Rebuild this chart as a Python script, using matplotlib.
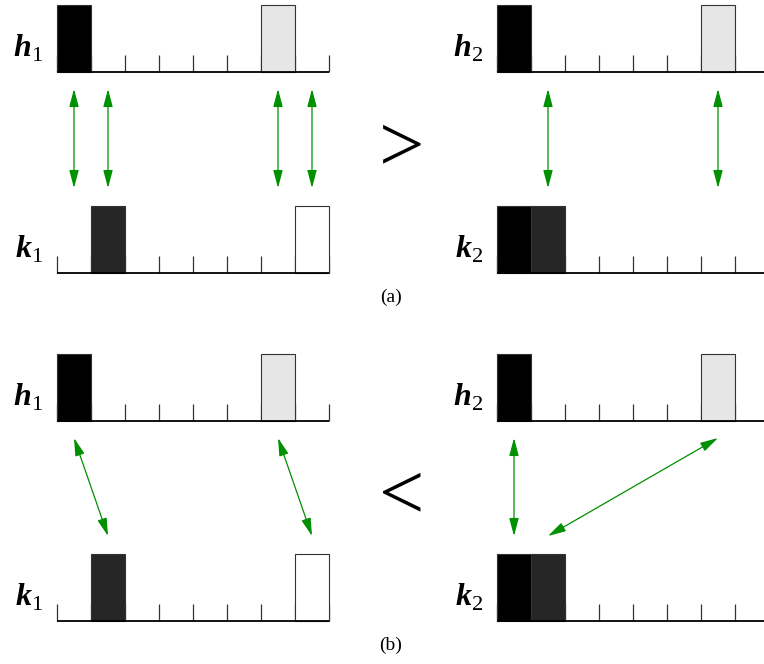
import matplotlib.pyplot as plt

plt.rcParams['mathtext.fontset'] = 'custom'
plt.rcParams['mathtext.rm'] = 'Liberation Serif'
plt.rcParams['mathtext.bf'] = 'Liberation Serif:italic:bold'

# histogram contents: which bins are filled and with what colour
n_bins = 8
h1_bins = [0, 6]
h1_cols = ['#000000', '#e6e6e6']
k1_bins = [1, 7]
k1_cols = ['#262626', '#ffffff']
h2_bins = [0, 6]
h2_cols = ['#000000', '#e6e6e6']
k2_bins = [0, 1]
k2_cols = ['#000000', '#262626']

# bin matches (h bin -> k bin) drawn as arrows
match_a_left = [(0, 0), (1, 1), (6, 6), (7, 7)]
match_a_right = [(1, 1), (6, 6)]
match_b_left = [(0, 1), (6, 7)]
match_b_right = [(0, 0), (6, 1)]

# layout in pixels
W, H = 764, 664
bw = 34
bar_h = 67
tick_h = 17
left_x, right_x = 57, 497
green = '#009000'

fig = plt.figure(figsize=(W / 100, H / 100), dpi=100)
ax = fig.add_axes([0, 0, 1, 1])
ax.set_xlim(0, W)
ax.set_ylim(H, 0)
ax.axis('off')


def hist(x0, base, bins, cols, name, sub):
    edges = [x0 + i * bw for i in range(n_bins + 1)]
    ax.vlines(edges, base - tick_h, base, color='#333333', lw=0.9, zorder=1)
    ax.hlines(base, edges[0], edges[-1], color='black', lw=1.3, zorder=3)
    ax.bar([x0 + b * bw for b in bins], [-bar_h] * len(bins), bottom=base,
           width=bw, align='edge', color=cols, edgecolor='#333333',
           linewidth=0.8, zorder=2)
    ax.text(x0 - 14, base - 24, r'$\mathbf{%s}_{%s}$' % (name, sub),
            ha='right', va='center', fontsize=23)


def arrows(x0, top, bot, pairs):
    for a, b in pairs:
        ax.annotate('', xy=(x0 + (b + 0.5) * bw, bot),
                    xytext=(x0 + (a + 0.5) * bw, top),
                    arrowprops=dict(arrowstyle='<|-|>,head_length=0.6,head_width=0.16',
                                    color=green, lw=0.9, mutation_scale=18,
                                    shrinkA=0, shrinkB=0))


rows = [(72, 273, match_a_left, match_a_right, '>', '(a)'),
        (421, 621, match_b_left, match_b_right, '<', '(b)')]

for hb, kb, ml, mr, rel, lab in rows:
    hist(left_x, hb, h1_bins, h1_cols, 'h', '1')
    hist(left_x, kb, k1_bins, k1_cols, 'k', '1')
    hist(right_x, hb, h2_bins, h2_cols, 'h', '2')
    hist(right_x, kb, k2_bins, k2_cols, 'k', '2')
    arrows(left_x, hb + 17, kb - bar_h - 18, ml)
    arrows(right_x, hb + 17, kb - bar_h - 18, mr)
    ax.text(402, (hb + kb) / 2 - 22, rel, ha='center', va='center',
            fontsize=58, family='Liberation Serif')
    ax.text(391, kb + 24, lab, ha='center', va='center', fontsize=14,
            family='Liberation Serif')

fig.savefig('out.png', dpi=100)
